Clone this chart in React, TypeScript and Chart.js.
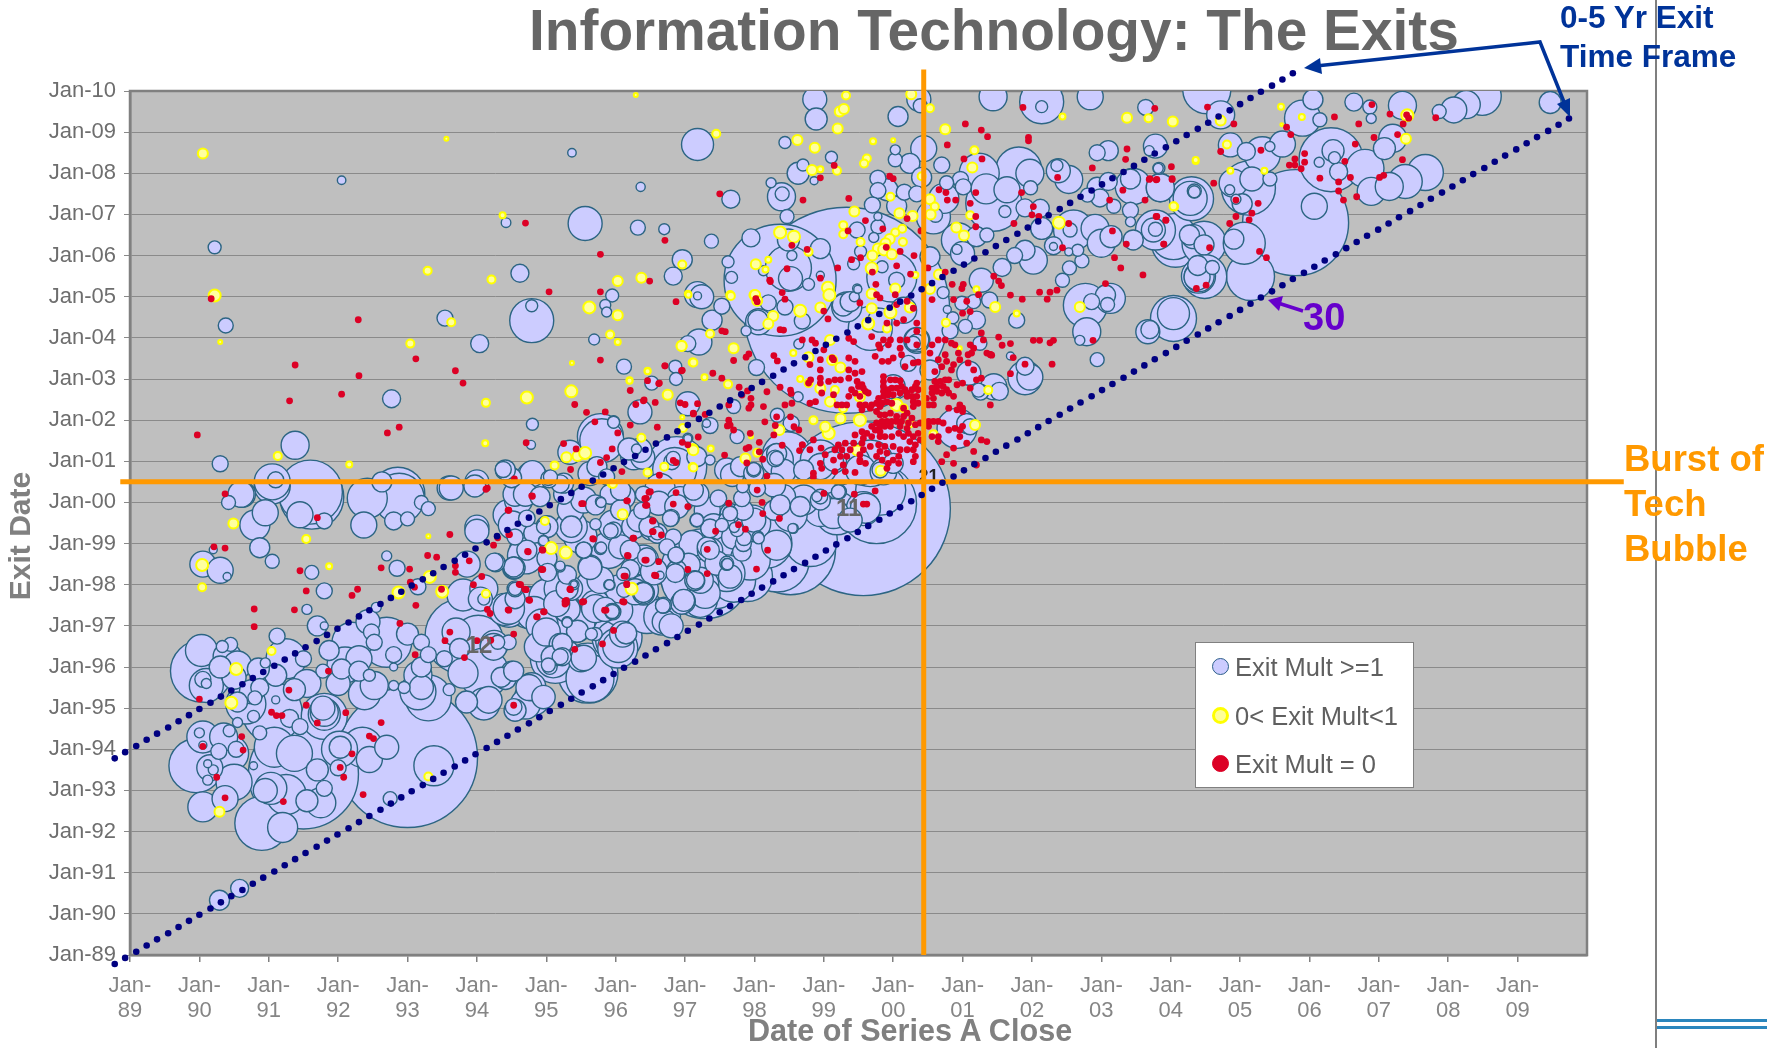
import React, { useEffect, useRef } from "react";
import { Chart, registerables } from "chart.js";

Chart.register(...registerables);

const FONT = '"Liberation Sans", Arial, sans-serif';

// Exit date = close date guide (x, y in years; 100 = Jan-00)
const guideCloseDates = [88.78,88.93,89.09,89.24,89.39,89.55,89.70,89.85,90.00,90.16,90.31,90.46,90.62,90.77,90.92,91.08,91.23,91.38,91.53,91.69,91.84,91.99,92.15,92.30,92.45,92.61,92.76,92.91,93.06,93.22,93.37,93.52,93.68,93.83,93.98,94.14,94.29,94.44,94.59,94.75,94.90,95.05,95.21,95.36,95.51,95.67,95.82,95.97,96.12,96.28,96.43,96.58,96.74,96.89,97.04,97.20,97.35,97.50,97.65,97.81,97.96,98.11,98.27,98.42,98.57,98.73,98.88,99.03,99.18,99.34,99.49,99.64,99.80,99.95,100.10,100.26,100.41,100.56,100.71,100.87,101.02,101.17,101.33,101.48,101.63,101.79,101.94,102.09,102.24,102.40,102.55,102.70,102.86,103.01,103.16,103.32,103.47,103.62,103.77,103.93,104.08,104.23,104.39,104.54,104.69,104.85,105.00,105.15,105.30,105.46,105.61,105.76,105.92,106.07,106.22,106.38,106.53,106.68,106.83,106.99,107.14,107.29,107.45,107.60,107.75,107.91,108.06,108.21,108.36,108.52,108.67,108.82,108.98,109.13,109.28,109.44,109.59,109.74];
const guideExitDates = [88.78,88.93,89.08,89.23,89.38,89.53,89.68,89.83,89.98,90.13,90.28,90.43,90.58,90.73,90.88,91.03,91.18,91.33,91.48,91.63,91.78,91.93,92.08,92.23,92.38,92.53,92.68,92.83,92.98,93.13,93.28,93.43,93.58,93.73,93.88,94.03,94.18,94.33,94.48,94.63,94.78,94.93,95.08,95.23,95.38,95.53,95.68,95.83,95.98,96.13,96.28,96.43,96.58,96.73,96.88,97.03,97.18,97.33,97.48,97.63,97.78,97.93,98.08,98.23,98.38,98.53,98.68,98.83,98.98,99.13,99.28,99.43,99.58,99.73,99.88,100.03,100.18,100.33,100.48,100.63,100.78,100.93,101.08,101.23,101.38,101.53,101.68,101.83,101.98,102.13,102.28,102.43,102.58,102.73,102.88,103.03,103.18,103.33,103.48,103.63,103.78,103.93,104.08,104.23,104.38,104.53,104.68,104.83,104.98,105.13,105.28,105.43,105.58,105.73,105.88,106.03,106.18,106.33,106.48,106.63,106.78,106.93,107.08,107.23,107.38,107.53,107.68,107.83,107.98,108.13,108.28,108.43,108.58,108.73,108.88,109.03,109.18,109.33];
const WINDOW_YEARS = 5;
const UPPER_GUIDE_COUNT = 112;

// [close date, exit date, deal size]
const winnersEarly = [
[90.29,90.33,100],[90.58,90.62,81],
[93,93.8,4900],[91.5,93.4,3025],[90.9,92.2,729],[91.2,92.1,225],[89.95,93.6,729],[90.05,92.6,225],[90.37,92.8,169],[90.05,94.3,256],[90.35,94.3,196],[90.45,93.9,324],[90.5,93.2,324],[90.15,93.55,169],[90.2,93.5,25],[90.12,93.65,16],[90.12,93.25,25],[90.28,93.95,64],[90.53,94,64],[90.43,94.45,36],[90,94.4,25],[90.05,94.1,16],[90.78,93.6,16],[90.87,94.4,49],[90.55,94.65,25],[90.78,94.8,36],[91.37,93.9,324],[91.08,94.05,400],[90.95,93,144],[91.03,93.05,256],[91.25,92.9,400],[91.55,92.75,121],[91.75,92.7,225],[91.8,93.05,64],[91.7,93.5,121],[92,93.55,64],[92.03,94.05,121],[92.35,94.05,400],[92.02,94,324],[92.45,93.75,169],[92.7,94.05,144],[93.38,93.6,400],[92.75,92.8,49],[91.8,94.8,529],[91.8,94.85,256],[91.8,94.9,196],[91.78,95,144],[91.45,94.55,64],[91.3,94.75,81],[91.05,94.9,900],
[90.03,95.9,961],[90.03,96.4,256],[90.1,95.55,289],[90.1,95.6,25],[90.05,95.7,64],[90.33,96.5,36],[90.45,96.55,49],[90.4,96.25,196],[90.3,96,121],[90.5,95.75,144],[90.55,96.05,196],[90.55,95.15,100],[90.67,95.1,400],[90.8,95.25,49],[90.87,95.5,81],[91.1,95.2,16],[91.1,95.8,121],[90.95,96.1,25],[90.85,95.95,121],[90.75,95.4,144],[91.37,95.45,121],[91.5,96.2,64],[91.55,95.6,196],[91.12,96.75,64],[91.25,96.2,400],[91.7,97,100],[91.8,97,16],[91.87,96.4,100],[91.78,95.9,49],[92.05,95.95,100],[92,95.6,144],[92.3,96.2,169],[92.3,95.9,100],[92.2,96.6,400],[92.1,96.05,324],[92.52,95.55,196],[92.45,95.8,36],[92.38,95.35,256],[92.43,97.1,144],[92.48,96.85,64],[92.52,96.6,64],[92.7,96.6,625],[93,96.8,121],[92.8,96.3,64],[92.8,96,16],[92.8,95.55,25],[93.2,96.6,64],[93.3,96.3,64],[93.2,96,100],[93.15,95.8,196],[93.2,95.5,144],[93.15,95.4,324],[93.3,95.25,529],[92.95,95.5,36],[93.53,96.2,64],[93.6,95.45,36],[93.8,95.85,225],[93.85,95.15,121],[94.1,95.1,256],[93.8,96.75,1444],[93.8,97.75,256],[93.7,96.85,196],[94.02,96.65,625],[94.25,96.55,196],[93.75,96.45,100],[94.3,96.6,49],[94.4,97.4,256],[94.1,97.9,196],[94.1,97.65,36],[94.05,97.65,144],[94.75,97.45,441],[94.55,97.9,64],[95,96.5,225],[95,96.85,196],[95.2,96.55,121],[95.2,96.25,64],[95.03,96.05,49],[95.1,96.15,289],[95.5,96.2,169],[95.6,95.85,900],[94.5,95.9,100],[94.35,95.75,100],[94.75,95.5,169],[94.8,95.25,324],[94.55,94.95,121],[94.7,95.1,225],[94.1,95.85,625],[95.65,96.8,36],[95.3,97.1,25],[95.4,97.1,441],[96.1,96.8,169],[96,96.65,400],[95.95,97.35,49],[95.85,97.4,144],[95.3,97.4,169],[95.4,98,25],[95.3,97.9,121],[95.2,97.9,256],[96.4,97.8,121],[95.9,98,25],[95.7,97.9,400],[96.05,97.9,196],[96.03,96.46,400],[96.7,97.1,144],[96.95,97.55,121],[97.45,97.95,484],
[90.8,99.45,225],[90.95,99.75,169],[90.87,98.9,100],[91.05,98.57,49],[90.62,100.2,169],[90.42,100,49],[90.05,98.5,169],[90.3,98.35,169],[90.4,98.2,16],[90.2,98.85,16],[91.62,100.13,1024],[91.45,99.7,169],[91.8,99.55,64],[91.05,100.4,324],[91.62,98.3,49],[91.8,97.85,64],[91.55,97.4,25],[92.55,97.45,25],[92.7,98.7,25],[92.85,98.4,64],[93.15,97.95,64],[92.37,99.45,169],[92.42,100.1,400],[92.8,99.55,81],[93,99.6,49],[92.88,100.1,625],[93.2,100,49],[93.3,99.85,49],[93.6,100.35,144],[93.97,100.4,121],[94,99.4,144],[94,99.3,144],[94.25,98.55,81],[93.86,98.5,169],[94.53,98.4,121],[94.7,98.7,324],[94.6,100.05,196],[94.45,99.7,225],
];

const winnersIsolated = [
[90.22,106.2,42],[90.38,104.3,56],[92.05,107.83,18],[95.37,108.5,18],[96.36,107.67,21],[95.56,106.78,289],[96.32,106.68,56],[96.7,106.64,30],[94.42,106.8,23],[94.62,105.57,81],[94.79,104.42,484],[94.79,104.78,36],[93.54,104.48,64],[94.04,103.86,81],[92.77,102.52,81],[91.38,101.39,196],[90.3,100.94,64],[94.8,101.9,36],[94.78,101.4,20],[95.69,103.96,30],[96.12,103.3,56],[96.52,102.9,49],[96.86,103.3,42],[96.87,103,42],[96.35,102.2,144],[97.04,102.4,144],[95.95,105.03,42],[95.85,104.8,30],[95.87,104.63,25],[96.83,105.5,81],[96.96,105.9,100],[97.18,105.05,169],[97.18,105.02,16],[97.18,108.7,256],[97.04,103.86,64],[97.2,103.9,169],[95.8,101.5,484],[95.97,101.96,36],[95.34,101.22,144],[96.19,101.3,121],[96.39,101.1,144],[96.3,101.3,25],[96.83,101.07,49],[97.04,101.55,16],[96.85,100.8,484],[91.05,100.5,324],[91.1,100.55,64],[91.6,100.25,1024],[90.6,100.2,169],[92.63,100.5,100],[92.86,100.2,729],[93.63,100.35,144],[94,100.5,144],[94.38,100.8,64],[94.5,100.6,100],[94.8,100.7,169],[95.04,100.55,64],[95.2,100.45,81],
];

const winnersBand = [
[94.55,100.2,144],[94.7,100.2,144],[94.91,100.14,100],[95.25,100.2,100],[95.54,100.06,169],[95.78,100.02,25],[95.92,100.2,100],[96.11,100.14,144],[96.4,100.2,64],[96.62,99.98,144],[96.88,99.9,144],[97.17,100.2,144],[97.32,99.81,169],[97.65,99.73,100],[97.41,99.41,169],[97.84,99.81,100],[97.99,99.57,144],[98.28,99.81,100],[98.42,100.14,144],[98.66,99.9,100],[98.95,100.06,100],[99.21,100.26,49],[98.9,100.14,25],[99.14,99.73,225],[99.38,99.57,144],[98.56,99.37,25],
[94.55,99.16,64],[94.82,99.25,100],[94.96,99.41,49],[95.97,99.33,64],[96.26,99.41,144],[96.5,99.33,100],[96.79,99.61,64],[97.17,99.57,49],[96.83,99.16,64],[97.1,99,169],[97.32,98.92,100],[97.7,99.16,144],[98.05,99.16,36],[98.32,98.96,225],[97.84,99,64],[97.6,98.52,49],[97.6,99.57,64],[95.54,98.84,64],[95.78,98.88,36],[94.96,99.08,25],[94.72,98.84,100],[94.53,98.43,100],[95.2,98.43,25],[95.63,98.43,144],[96.07,98.92,144],[96.4,98.6,225],[96.74,98.92,64],[96.87,98.72,64],
[95.35,97.91,144],[95.4,98.01,12],[95.01,97.7,324],[95.71,97.5,225],[95.92,97.99,25],[96.28,97.83,169],[96.4,97.87,225],[96.69,97.5,64],[96.98,97.62,121],[97.22,98.11,169],[97.15,98.11,81],[95.96,97.34,64],[95.15,97.54,169],[94.55,97.66,100],[94.46,97.38,289],[94.82,97.3,289],[95.3,97.1,25],[96.45,97.3,400],[97.22,97.62,289],[97.7,98.11,484],[97.94,98.6,400],[96.88,98.35,100],[97.46,98.52,144],
[95.78,101.6,529],[95.97,101.95,36],[96.35,101.27,144],[96.26,101.11,169],[95.63,100.7,144],[95.73,100.87,100],[95.87,100.62,64],[96.88,100.87,900],[96.81,100.99,64],[97.17,101.11,100],[97.36,101.03,25],[97.6,100.79,144],[97.8,100.87,100],[97.99,100.79,49],[98.32,101.19,100],[98.47,101.11,625],[98.32,101.07,49],[98.71,100.79,100],[99.14,101.03,169],[99.38,100.95,400],[99.81,100.79,64],[100,100.95,100],[99.24,100.79,225],[98.95,100.87,169],[94.41,100.79,100],[94.79,100.62,225],[95.06,100.62,49],
[97.36,101.87,64],[97.31,101.92,16],[97.75,101.6,49],[98.03,103.28,64],[98.33,102.12,49],[98.53,101.92,64],[98.63,102.57,25],[97.7,102.33,49],[97.04,101.56,25],
[99.57,99.85,7569],[99.57,99.85,289],[99.76,99.97,1600],[98.52,98.85,2025],[97.29,98.27,2025],[97.9,98.2,625],[96.8,97,144],
];

const winnersBandDetail = [
[94.51,99.45,196],[94.72,99.61,69],[95.01,99.41,121],[94.96,99.07,25],[94.27,98.54,87],[94.54,98.41,114],[94.77,98.84,427],[95.01,98.64,100],[95.02,98.3,81],[95.2,98.46,22],[95.3,98.24,87],[95.36,99.41,256],[95.36,99.41,114],[95.54,98.84,69],[95.63,98.41,136],[95.79,98.9,32],[95.71,99.47,32],[95.93,99.31,54],[95.49,99.17,278],[95.9,98.84,336],[95.79,100,25],[95.71,99.94,100],[95.35,99.82,178],[96.07,99.82,100],[96.38,99.8,69],[95.97,99.45,225],[96.33,99.57,136],[96.8,99.63,69],[96.6,99.25,100],[96.6,99.25,44],[96.48,99.41,100],[96.21,98.84,100],[96.45,98.67,87],[96.87,98.72,69],[97.05,98.48,136],[96.55,98.32,178],[96.21,98.38,87],[96.11,98.26,44],[95.91,98,25],[95.78,98.11,178],[96.86,98.28,87],[96.64,98.23,16],[97.14,98.1,100],[97.27,98,225],[97.17,99.57,44],[97.36,98.84,160],[97.36,98.84,87],[97.17,98.92,178],[97.65,99.74,54],[97.48,100.1,69],[97.53,99.45,44],[97.36,99.37,87],[97.6,98.5,32],[97.6,98.28,336],[97.75,99.33,44],[96.93,100.06,178],[97.12,100.3,100],[96.64,100.34,225],[96.07,100.3,100],[95.03,100.59,54],[95.25,100.47,100],
[94.46,97.42,245],[94.55,97.9,44],[94.77,97.46,400],[95.29,97.42,178],[95.71,97.42,196],[95.95,97.36,59],[96.03,97.38,225],[96.12,97.87,54],[96.4,97.81,100],[96.68,97.49,54],[96.98,97.59,136],[96.67,97.22,336],[97.29,97.79,225],[95.3,97.08,25],[95.45,96.87,121],[95.71,96.8,44],[96.15,96.82,114],[96.04,96.49,245],[96.02,96.73,625],[94.9,96.49,225],[94.46,96.6,54],[95.23,96.25,81],[95.23,96.57,100],[95.54,96.22,160],[95.05,96,54],[95.08,96.25,114],[95.63,95.72,576],[94.79,95.52,196],[94.53,95.9,100],[94.41,95.72,121],[94.94,97.02,256],[95.13,96.21,625],[94.17,95.2,178],[94.53,95.03,69],[94.96,95.27,136],[94.24,96.49,178],
[99.6,99.86,225],[99.82,100.3,625],[98.95,100.14,54],[99.22,100.26,54],[98.95,99.82,278],[99.19,99.74,469],[98.71,100.06,225],[98.52,99.7,278],[98.37,99.94,100],[98.28,100.42,136],[98.04,100.34,69],[97.83,100.38,36],[97.82,100.1,69],[97.65,99.73,54],[97.71,99.39,25],[97.97,99.49,336],[98.06,99.13,32],[97.85,99.13,54],[98.18,99.01,625],[98.55,99.37,22],[98.81,99.09,711],[97.82,98.8,87],[97.61,98.5,32],[97.65,98.2,136],[98.33,98.6,1024],[97.99,100.71,100],[98.3,101.07,69],[98.42,100.75,152],[98.33,101.03,256],[99.14,101,100],[98.97,100.83,225],[98.95,101.03,400],[97.68,100.67,136],[97.99,100.81,44],[99.86,100.75,178],[99.53,100.79,225],[99.67,100.95,544],
];

const winnersPeak = [
[98.87,109.8,144],[98.89,109.32,121],[100.07,109.38,100],[100.37,109.8,144],[100.39,109.64,49],[100.44,108.6,169],[100.7,108.2,64],[100.03,108.57,25],[100.03,108.33,49],[100.24,108.24,100],[99.78,107.88,64],[99.91,107.6,121],[99.78,107.58,64],[100.16,107.54,64],[100.05,107.2,100],[100.34,107.5,64],[100.41,107.9,100],[98.44,108.75,36],[98.7,108.2,36],[98.63,108,121],[98.86,107.82,16],[99.11,108.39,36],[98.24,107.77,25],[98.39,107.43,196],[98.4,107.5,49],[97.66,107.37,81],[99.7,107.23,64],[99.78,106.95,16],[99.78,106.7,49],[99.48,106.62,64],[99.72,106.44,25],[99.53,106.1,36],[98.47,106.95,49],[97.38,106.35,49],
[98.37,105.4,3136],[99.33,104.67,10609],[97.95,106.43,81],[97.62,105.85,36],[97.67,105.47,36],[98.52,105.44,144],[98.49,105.69,529],[98.54,106,25],[98.95,106.17,100],[98.78,105.3,36],[98.13,105.63,25],[98.95,105.52,16],[98.49,106.38,121],[98.2,104.85,64],[98.44,104.75,64],[98.05,104.43,100],[98.06,104.39,169],[97.53,104.77,64],[97.39,104.43,100],[97.24,105,144],[97.88,104.17,25],[98.69,104.41,64],[98.64,103.85,25],[99.28,104.8,121],[99.33,104.75,225],[99.44,105,25],[99.49,105.18,16],[99.43,105.8,36],[99.84,105.73,36],[99.98,105.48,625],[99.81,104.43,144],[99.67,104.23,484],[100.15,104.67,169],[100.34,103.94,169],[100.34,103.9,64],[100.05,105.4,64],[100.58,106.94,289],[100.61,106.98,49],[100.53,105.97,100],[100.72,105.1,36],[100.78,104.69,16],[100.86,104.49,36],[100.82,104.17,64],[101.04,104.28,49],[101.2,104.43,81],[100.99,104.84,49],[101.16,104.88,49],[101.27,105.4,144],[101.39,104.92,64],[101.78,104.43,64],[101.57,105.71,81],[102.44,105.4,49],[102.54,105.7,49],[102.72,105.87,49],[101.9,106.13,100],[102.02,105.89,196],[101.75,106,64],
[100.34,103.95,144],[100.29,103.87,49],[99.38,104.88,100],[99.48,105.2,20],[101.25,103.87,49],[101.09,103.14,144],[101.23,102.73,49],[101.45,102.81,169],[101.06,101.92,100],[100.92,101.8,400],[101.11,101.84,64],[100.22,103.38,64],[100.53,103.22,100],[100,102.81,144],[101.9,103.03,289],[101.53,102.7,81],[101.26,102.68,64],
];

const winnersLate = [
[102.14,106.66,121],[102.31,106.24,81],[102.31,106.22,16],[102.53,106.09,16],[102.66,106.13,36],[102.6,106.62,400],[102.55,106.62,49],[102.91,106.66,196],[103,106.3,196],[103.14,106.46,121],[103.46,106.38,100],[103.42,106.82,25],[103.42,107.1,64],[103.18,107.2,49],[102.98,107.4,81],[103.1,107.8,81],[102.94,107.66,100],[102.8,107.47,49],[103.46,107.68,324],[103.42,107.86,100],[103.85,107.65,196],[103.83,108.12,36],[103.78,108.66,144],[103.69,108.55,25],[103.64,109.6,64],[102.94,108.5,64],[103.1,108.55,100],[102.53,107.85,196],[102.36,108.19,36],[102.38,108.06,144],[102.84,109.86,169],[102.14,109.74,484],[102.14,109.62,36],[101.44,109.86,196],[101.81,108.08,529],[101.97,108,196],[101.24,108,400],[101.34,107.62,225],[101.45,107.27,784],[101.64,107.6,169],[101.98,107.65,49],[100.77,107.77,49],[100.97,107.85,64],[101.01,107.67,64],[100.73,107.39,225],[101.61,107.07,36],[101.9,107.16,81],[102.12,107.15,81],[101.35,106.5,49],[101.2,106.46,100],[100.94,106.38,289],[100.92,106.15,25],[101,106.05,144],[103.75,106.62,144],[103.78,106.64,49],[104.04,106.46,529],[104.28,107.39,289],[104.34,107.55,36],[104.33,106.46,144],[104.38,105.48,169],[104.4,105.5,289],[102.77,104.79,484],[103.06,105.04,100],[102.86,104.88,64],[103.13,104.96,225],[103.09,104.81,49],[102.79,104.15,196],[102.69,103.94,25],[104.04,104.47,529],[104.04,104.59,256],[103.67,104.15,144],[102.94,103.47,49],[101.9,103.31,81],[101.97,103.05,169],[101.69,103.56,16],
[104.52,110.03,576],[104.72,109.42,196],[104.86,108.69,144],[106.05,109.79,100],[105.9,109.34,324],[106.15,109.3,49],[106.64,109.73,81],[106.87,109.61,49],[106.89,109.33,25],[107.34,109.65,196],[107.2,108.85,196],[107.08,108.6,121],[107.87,109.5,49],[108.08,109.54,169],[108.26,109.67,196],[108.49,109.87,361],[109.47,109.72,121],[105.61,108.71,169],[105.32,108.45,324],[105.43,108.65,25],[105.09,108.53,81],[106.31,108.33,1024],[106.34,108.55,121],[106.36,108.38,36],[106.42,108.04,81],[106.14,108.27,25],[106.8,108.12,361],[106.89,107.56,196],[107.15,107.68,196],[107.38,107.8,289],[107.67,108.02,324],[105.12,107.64,729],[105.17,107.86,144],[105.43,107.86,49],[104.9,107.76,196],[104.85,107.6,25],[104.94,107.37,25],[105.03,107.26,100],[105.8,106.8,2809],[106.07,107.2,169],[104.3,107.38,484],[104.34,107.57,49],[103.82,108.12,25],[103.85,107.65,196],[105.06,106.3,441],[104.91,106.4,100],[105.15,105.49,576],[104.48,106.3,484],[104.27,106.5,100],[104.48,106.26,100],[104.07,106.3,576],[103.78,106.62,400],[104.49,105.49,484],[104.41,105.49,225],[104.39,105.76,100],[104.6,105.71,49],[103.7,104.2,81],
];

// Failed exits around the 2000 peak, [close date, exit date]
const lossCluster = [
[99.06,104.46],[99.52,104.85],[99.81,104.97],[99.91,104.36],[100.05,104.36],[100.34,104.36],[100.34,104.16],[99.69,104.03],[99.36,103.99],[99.43,103.91],[98.69,103.95],[98.83,103.95],[98.88,103.87],[99,103.71],[98.95,103.47],[98.8,103.35],[98.95,103.22],[98.95,103.02],[98.95,102.9],[99.07,102.94],[99.16,102.98],[99.24,102.98],[98.81,102.98],[98.78,102.9],
[99.86,103.95],[99.96,103.95],[99.79,103.83],[99.81,103.75],[99.93,103.83],[100.1,103.95],[100.2,103.95],[100.34,103.83],[100.1,103.75],[100.12,103.59],[100,103.51],[99.93,103.43],[99.84,103.43],[99.74,103.55],[99.36,103.51],[99.45,103.43],[99.14,103.47],[99.12,103.51],[99.36,103.22],[99.45,103.14],[99.36,103.02],[99.48,102.94],[99.55,103.18],[100.17,103.3],[100.29,103.39],[100.36,103.41],
[100.75,103.95],[100.65,103.95],[100.56,103.83],[100.53,103.63],[100.65,103.47],[100.77,103.43],[100.75,103.59],[100.7,103.3],[100.6,103.18],[100.84,103.22],[100.87,103.35],[100.94,103.63],[100.84,103.87],[100.89,103.83],[101.11,103.83],[101.16,103.75],[101.13,103.63],[101.08,103.59],[100.96,103.47],[101.08,103.39],[101.35,103.63],[101.4,103.59],[101.27,104.12],[101.3,103.95],[101,104.6],[101.11,104.64],[101.23,105.05],[101.06,104.89],[100.87,104.93],[100.56,104.93],[100.29,104.72],[100.2,104.89],[100.03,105.05],[100.05,104.81],[99.76,105.05],[100.15,104.44],
[99.86,103.06],[99.86,102.94],[99.86,102.82],[99.86,102.7],[99.86,102.58],[99.96,102.98],[100.03,102.98],[100.1,102.96],[99.98,102.78],[100.05,102.78],[100.12,102.82],[99.93,102.74],[99.93,102.62],[100,102.62],[100.1,102.66],[100.17,102.74],[100.2,102.66],[100.27,102.74],[100.32,102.82],[100.34,102.9],[100.36,102.74],[100.27,102.58],[100.2,102.58],[100.29,102.45],[100.34,102.58],[100.36,102.41],[100.29,102.33],[99.79,102.53],[99.76,102.41],[99.84,102.41],[99.91,102.45],[99.98,102.41],[99.52,102.37],[99.6,102.37],[99.69,102.37],[99.81,102.33],[99.55,102.25],[99.67,102.29],[99.4,102.74],[99.5,102.82],[99.55,102.86],[99.57,102.78],[99.6,102.7],[99.64,102.66],[99.36,102.58],[99.45,102.66],[99.52,102.58],[98.97,102.66],[98.88,102.45],[98.8,102.41],[99.14,102.62],[99.33,102.37],[99.19,102.37],[99.26,102.37],
[100.6,102.94],[100.68,102.94],[100.75,102.98],[100.63,102.82],[100.56,102.78],[100.72,102.82],[100.77,102.74],[100.56,102.66],[100.63,102.7],[100.7,102.66],[100.8,102.66],[100.58,102.53],[100.48,102.53],[100.87,102.58],[100.58,102.37],[100.51,102.37],[100.96,102.37],[101,102.29],[100.92,102.25],[101,102.21],[100.8,102.29],[101.11,102.78],[101,102.9],[101.2,102.98],[101.27,103.02],[100.92,102.86],[100.8,102.98],[101.16,103.22],[101.4,102.37],
[99.76,102.21],[99.81,102.13],[99.88,102.13],[99.96,102.17],[100.05,102.09],[100.15,102.29],[100.2,102.17],[100.27,102.05],[100.15,102.09],[100.22,101.93],[100.12,101.97],[100.05,101.97],[99.98,101.97],[99.91,101.97],[99.84,101.97],[99.76,101.93],[99.69,101.85],[99.81,101.85],[99.88,101.85],[99.96,101.85],[99.74,101.76],[99.81,101.72],[100.1,101.85],[100.2,101.8],[100.32,101.89],[100.39,101.93],[100.22,101.68],[100.29,101.6],[100.36,101.68],[100.39,101.52],[100.32,101.4],[100.24,101.48],[100.15,101.6],[100.08,101.68],[99.98,101.6],[99.88,101.6],[99.81,101.6],[99.69,101.6],[99.62,101.68],[99.55,101.72],[99.45,101.64],[99.57,101.56],[99.55,101.44],[99.43,101.44],[99.31,101.44],[99.21,101.4],[99.16,101.28],[99.26,101.28],[99.38,101.28],[99.33,101.12],[99.24,101.12],[99.57,101.28],[99.52,101.16],[99.67,101.36],[99.79,101.4],[99.81,101.24],[99.88,101.36],[99.91,101.2],[100,101.36],[100.1,101.28],[100.2,101.28],[100.08,101.12],[100.29,101.28],[100.32,101.12],[100.29,100.99],[100,101.03],[100.08,100.95],[99.76,101.12],[99.84,101.03],[99.93,100.95],[99.91,100.83],[99.52,101.03],[99.6,100.95],[99.52,100.99],[99.28,100.91],[99.31,100.75],[99.45,100.73],[99.14,101.03],[99.02,101.16],[98.95,100.95],[98.97,100.83],[98.85,100.71],[99.16,100.75],[98.69,101.4],[98.8,101.28],[98.96,101.32],
[100.51,101.97],[100.58,101.97],[100.65,101.97],[100.72,101.93],[100.8,101.76],[100.65,101.6],[100.65,101.48],[100.56,101.6],[100.89,101.8],[100.96,101.76],[101,101.85],[100.96,101.6],[101.27,101.52],[101.35,101.48],[101.06,101.44],[101.16,101.24],[100.87,101.32],[100.77,101.16],[100.87,100.95],[100.7,100.99],[101.2,100.91],[100.51,101.85],
];

const lossScattered = [
[90.17,104.95],[92.29,104.44],[91.38,103.34],[92.3,103.08],[92.05,102.63],[91.3,102.47],[89.97,101.64],[92.88,101.83],[92.71,101.69],[93.12,103.49],[93.69,103.2],[93.8,102.9],[94.7,106.79],[95.04,105.12],[95.78,106.03],[95.78,105.12],[95.78,103.46],[96.71,106.37],[96.49,105.38],[96.87,104.88],[94.71,101.45],[95.41,102.38],[95.58,102.19],[95.85,102.2],[95.7,101.96],[96.21,101.88],[96.03,101.69],[96.21,102.72],[96.29,102.38],[96.41,102.49],[96.57,102.43],[96.46,102.96],[96.63,102.9],[96.71,103.32],[96.96,103.21],[96.93,102.42],[97,102.38],[97.18,102.4],[97.12,102.17],[96.6,101.83],[96.96,101.46],[97.04,101.4],[97.19,101.59],[95.25,101.43],[95.43,101.3],[95.95,101.3],[95.87,101.09],[95.78,100.97],[95.35,100.8],[96.09,100.75],[96.63,100.66],[96.83,101.02],[96.87,100.97],[94.15,100.35],[94.54,100.57],
[90.37,100.21],[91.7,99.63],[90.21,98.92],[90.37,98.89],[91.45,98.34],[91.54,97.85],[92.2,97.74],[92.28,97.89],[91.37,97.39],[90.79,97.41],[90.79,96.98],[92.62,98.41],[93.03,98.38],[93.04,98.06],[93.1,97.94],[93.12,97.5],[92.89,97.06],[93.11,96.3],[93.29,98.71],[93.42,98.67],[93.49,97.89],[93.61,99.22],[93.69,98.46],[93.69,98.3],[93.89,98.58],[93.61,96.85],[93.54,96.64],[93.82,96.23],[94,96.64],[94.2,96.65],[94.15,97.4],[94.19,97.3],[93.95,98],[94.07,98.2],[94.24,98.96],[94.3,99.14],[94.46,99.22],[94.45,99.81],[94.13,100.32],[94.79,100.16],[94.73,98.81],[94.94,98.85],[94.93,98.37],[94.61,98.01],[94.69,97.89],[94.75,97.63],[94.45,97.39],[94.86,97.22],[94.96,97.34],[94.53,96.8],[95.41,96.43],[95.81,96.56],[95.97,96.89],[95.84,97.38],[95.27,97.6],[95.27,97.53],[95.34,97.89],[95.52,97.58],[96.1,97.59],[96.16,98.02],[96.12,98.21],[96.17,98.71],[96.42,98.6],[96.56,98.23],[95.67,99.12],[96.25,99.13],[96.53,99.55],[96.53,99.29],[96.16,100.04],[95.51,99.97],[96.42,100.09],[96.43,99.93],[96.48,100.25],
[90,95.22],[91.54,95.07],[91.86,95.9],[91.29,95.44],[91.04,94.9],[91.11,94.82],[91.19,94.82],[91.7,94.64],[92.11,94.89],[92.62,94.65],[92.45,94.32],[92.51,94.26],[92.2,93.89],[92.03,93.56],[92.08,93.32],[92.36,92.9],[91.21,92.73],[90.37,92.82],[90.25,93.32],[90.05,94.07],[90.61,94.31],[90.63,93.98],[94.53,95.07],
[97.58,104.15],[98.42,104.19],[98.44,104.94],[98.04,104.88],[98.23,105.37],[97.7,103.45],[97.92,103.61],[97.88,103.53],[98.28,103.57],[98.33,103.44],[97.53,103.02],[97.4,103.14],[96.95,103.2],[96.71,103.32],[96.62,102.89],[96.4,102.47],[97.29,102.14],[97.12,102.15],[97.78,102.8],[97.9,102.71],[97.82,102.61],[98.18,102.69],[98.37,102.8],[97.95,102.53],[97.95,102.37],[97.92,102.29],[98.13,102.33],[97.63,102.37],[98.53,102.65],[98.44,102.37],[98.54,102.41],[98.52,102.73],[98.32,102.08],[98.52,102.08],[97.63,102],[97.65,101.88],[97.61,101.86],[97.7,101.76],[98.15,101.96],[98.3,101.87],[98.64,101.76],[98.57,101.84],[98.07,101.46],[97.88,101.31],[97.92,101.34],[98.07,101.23],[97.57,101.15],[97.89,100.96],[98.12,101.05],[98.18,100.64],[98.69,101.4],[98.65,101.26],[98.85,101.52],[98.4,101.39],[98.28,101.64],[97.94,101.68],
[94.8,100.15],[94.46,99.81],[94.47,99.22],[95.53,99.97],[96.17,100.04],[96.44,100.1],[96.45,99.93],[96.5,100.26],[96.87,100.24],[96.83,99.96],[97.04,99.9],[96.54,99.55],[96.54,99.29],[96.66,99.21],[96.26,99.13],[95.68,99.11],[96.18,98.7],[96.44,98.6],[96.62,98.56],[96.58,98.22],[96.14,98.21],[96.16,98],[96.12,97.58],[95.86,97.38],[95.54,97.59],[95.29,97.62],[95.29,97.56],[95.35,97.88],[94.95,98.84],[94.95,98.37],[94.74,98.8],[94.63,98],[94.71,97.88],[94.76,97.62],[94.97,97.34],[94.87,97.22],[94.46,97.38],[97.04,98.37],[97.32,98.27],[97.32,98.86],[97.44,99.3],[97.77,99.46],[97.87,99.35],[97.63,99.98],[98.04,100.3],[98.11,100],[98.12,99.73],[98.36,99.61],[98.19,98.84],[98.03,98.38],[99,100.22],[99.44,100.2],[99.74,100.28],[99.57,99.96],[99.62,99.96],[98.85,100.62],
[101.87,109.6],[101.04,109.2],[101.27,109.05],[101.36,108.89],[101.95,108.87],[101.95,108.79],[100.78,108.69],[101.02,108.35],[101.28,108.35],[99.15,108.19],[98.95,107.89],[99.95,107.93],[100,107.87],[98.7,107.35],[99.36,107.39],[100.66,107.6],[100.76,107.53],[100.78,107.35],[100.9,107.35],[101.19,107.53],[101.11,107.27],[101.85,107.53],[102.02,107.19],[102,106.99],[102.1,106.95],[101.74,106.78],[101.19,106.95],[101.19,106.7],[102.53,106.78],[102.37,107.9],[102.44,106.19],[103.16,106.6],[103.35,108.34],[103.37,108.59],[102.87,108.13],[103.12,107.35],[103.31,107.59],[103.69,107.85],[103.8,107.85],[104.02,107.85],[103.63,107.35],[103.8,106.95],[103.93,106.86],[103.9,106.28],[103.36,106.28],[103.19,105.95],[103.28,105.7],[103.6,105.53],[103.06,105.32],[102.11,105.11],[102.26,105.11],[102.36,105.16],[102.22,104.94],[101.69,105.04],[101.86,104.94],[101.45,105.5],[101.52,105.38],[101.56,105.27],[101.01,105.3],[100.99,105.2],[102.88,103.94],[102.02,103.94],[102.11,103.94],[102.26,103.88],[102.31,103.94],[102.29,103.36],[101.9,103.36],[101.69,103.86],[101.57,103.82],[101.52,104.02],[101.4,103.6],[101.42,103.58],[101.73,103.52],[101.69,103.13],
[97.5,107.5],[99.4,105.9],[99.7,105.6],[99.53,105.95],[99.75,105.3],[99.9,106.2],[100.1,106.1],[100.3,106],[100.05,105.75],[100.25,105.55],[100.5,105.7],[100.75,105.6],[100.85,105.3],[100.4,106.6],[100.2,106.9],[99.85,106.65],[99.6,106.85],[99.35,106.6],[99.2,105.7],[98.95,105.45],[98.4,105.1],[98.02,104.95],[98.76,106.15],[98.54,106.25],[98.47,105.68],[98.22,105.4],[97.53,104.17],[98.37,104.2],[99,104.65],
[104.53,109.61],[103.77,109.58],[104.91,109.2],[105.67,109.12],[105.73,108.94],[106.36,109.37],[106.71,109.2],[106.9,109.67],[107.16,109.44],[107.4,109.42],[107.43,109.34],[107.35,109.2],[107.27,108.94],[106.93,108.87],[106.66,108.71],[107.82,109.35],[104.72,108.53],[105.3,108.56],[105.93,108.48],[105.79,108.35],[105.93,108.27],[105.71,108.2],[105.79,108.2],[105.88,108.11],[106.51,108.29],[107.34,108.33],[106.15,107.88],[106.59,107.9],[106.42,107.79],[106.42,107.57],[106.49,107.35],[106.68,107.43],[107.01,107.9],[107.07,107.95],[104.62,107.76],[104.01,108.16],[104.02,107.87],[103.79,107.84],[103.7,107.87],[105.26,107.27],[105.17,107.03],[104.94,107.35],[104.94,106.95],[105.13,106.87],[104.85,106.78],[103.79,106.95],[103.93,106.86],[103.9,106.28],[104.56,106.19],[105.28,106.1],[105.38,105.95],[104.51,105.28],[104.37,105.2],
];

// Partial exits, [close date, exit date, deal size]
const partialExits = [
[90.05,108.48,25],[93.56,108.84,4],[96.29,109.9,4],[94.37,106.98,9],[93.29,105.63,16],[94.21,105.42,16],[90.22,105.03,36],[93.63,104.38,16],[93.04,103.86,16],[90.3,103.9,4],[95.62,104.74,36],[96.03,105.38,25],[96.37,105.46,25],[96.96,105.78,16],[97.04,105.07,9],[96.03,104.55,25],[95.92,104.08,16],[96.03,103.9,9],[96.95,103.81,25],[97.11,103.4,16],[95.37,103.39,4],[96.46,103.2,9],[96.2,102.97,9],[95.36,102.7,36],[94.72,102.55,36],[94.13,102.42,16],[96.75,102.62,25],[96.96,102.07,4],[96.97,101.81,16],[94.12,101.44,9],[96.37,101.57,16],[97.11,101.3,25],[95.45,101.13,25],[95.29,101.1,25],[95.56,101.2,36],[91.13,101.13,16],[92.16,100.92,9],[95.12,100.9,16],[96.7,100.87,16],[97.11,100.86,16],[96.46,100.73,16],
[90.49,99.49,25],[91.54,99.11,16],[90.04,98.48,36],[90.04,97.94,16],[91.87,98.45,9],[93.3,99.18,4],[90.53,95.95,36],[90.46,95.13,36],[91.04,96.39,16],[90.29,92.48,25],[93.3,93.34,16],[94.13,97.78,16],[93.32,98.19,36],[92.87,97.81,36],[93.5,97.83,36],[95.07,98.89,36],[95.28,98.78,36],[94.98,99.55,16],[96.1,99.71,25],[96.23,97.9,36],[95.94,100.46,16],
[97.12,101.27,25],[97.37,101.31,9],[95.96,100.45,16],[97.12,100.85,16],[98.04,101.21,16],[97.87,101.07,25],[97.95,101.6,4],[98.36,101.76,25],[98.85,102,16],[99.07,101.68,36],[99.02,101.84,25],[99.24,102.04,25],[99.52,102,36],[99.28,102.29,16],[99.48,101.26,25],[99.82,100.77,25],[100.05,102.37,36],[100.15,102.29,16],[100.58,101.66,16],[100.24,101.92,16],[101.18,101.88,25],[101.37,102.73,16],[100.96,103.75,4],[99.16,102.73,16],[99.52,102.57,25],[99.09,102.45,25],[98.78,102.9,16],[98.95,102.77,25],[98.66,103,9],[99.24,103.28,25],[99.12,103.46,25],[98.78,103.53,25],[98.56,103.63,9],[99.09,103.95,25],[99.64,104.35,36],[99.96,104.62,36],[99.69,104.72,25],[99.91,104.23,16],[100.24,104.74,25],[100.76,104.37,16],[100.51,105.2,16],[100.03,105.2,25],[98.95,104.74,25],[98.66,104.66,36],[98.27,104.53,25],[98.2,104.34,25],[97.65,105.04,16],[98,105.04,25],[99.07,105.23,25],[99.09,105.04,25],[99.69,105.07,25],[97.05,105.05,9],[97.28,103.04,9],[97.62,102.87,16],[97.12,103.4,16],[97.7,103.75,25],[96.95,103.8,25],[97.36,104.1,16],[96.46,103.19,9],[96.2,102.96,9],
[99.32,109.89,16],[97.45,108.96,16],[100.26,109.92,25],[100.53,109.58,16],[99.23,109.5,25],[99.29,109.56,25],[99.2,109.09,25],[100.75,109.07,25],[98.62,108.81,25],[98.87,108.62,25],[99.71,108.78,9],[100,108.8,4],[99.62,108.36,16],[99.58,108.24,16],[98.83,108.08,25],[98.95,108.1,9],[99.19,108.06,16],[101.14,108.14,25],[101.17,108.56,16],[100.41,107.93,16],[99.96,107.43,16],[100.53,107.37,25],[100.6,107.19,16],[101.11,106.98,16],[100.54,107,25],[100.09,107.03,25],[100.28,106.96,25],[99.44,107.07,25],[99.28,106.74,16],[99.28,106.52,16],[100.13,106.65,16],[100.03,106.56,16],[99.53,106.33,16],[99.95,106.4,25],[99.89,106.3,25],[99.78,106.17,25],[99.87,106.15,36],[99.7,106,25],[99.98,106.03,25],[100.14,106.33,16],[99.69,105.69,36],[100.91,106.68,25],[101.02,106.49,25],[98.37,106.56,36],[98.57,106.46,36],[98.78,106.09,16],[98.02,105.79,25],[98.2,105.9,9],[98.16,105.66,9],[97.66,105.02,16],[99.06,105.22,36],[99.08,105.04,36],[98.01,105.04,25],[98.04,104.9,25],[100.66,105.54,25],[100.53,105.19,25],[100.32,105.53,9],[101.47,104.75,25],[101.2,105.18,9],[101.78,104.59,9],[102.39,106.8,36],[103.37,109.35,25],[103.68,109.34,16],[104.03,109.26,25],[102.44,109.38,9],[104.36,108.3,9],[104.05,107.19,16],[102.69,104.75,25],
[104.72,109.28,25],[107.41,109.41,36],[107.39,108.84,25],[105.59,109.62,9],[105.89,109.37,9],[105.6,109.18,2],[104.81,108.7,16],[104.36,108.32,9],[104.86,108.06,9],[105.35,108.06,9],[104.04,107.2,16],
];

const bubbleLabels: [number, number, string, string, number][] = [
  [94.03, 96.51, "12", "#666666", 24],
  [99.36, 99.83, "11", "#666666", 24],
  [100.51, 100.62, "21", "#222222", 18],
];

const xTickYears = [89, 90, 91, 92, 93, 94, 95, 96, 97, 98, 99, 100, 101, 102, 103, 104, 105, 106, 107, 108, 109];
const burstCloseLine = [{ x: 100.44, y: 89 }, { x: 100.44, y: 110.52 }];
const burstExitLine = [{ x: 88.86, y: 100.5 }, { x: 110.53, y: 100.5 }];
const legendRows = [
  { label: "Exit Mult >=1", fill: "#CCCCFF", line: "#2c5f8a", border: 1.5 },
  { label: "0< Exit Mult<1", fill: "#FFFF99", line: "#FFFF00", border: 3 },
  { label: "Exit Mult = 0", fill: "#DC0025", line: "#DC0025", border: 1 },
];

const yy = (v: number) => String(Math.round(v) % 100).padStart(2, "0");

function toBubble(rows: number[][]) {
  return rows.map(([x, y, size]) => ({ x, y, r: Math.sqrt(size) }));
}

const App = () => {
  const ref = useRef<HTMLCanvasElement>(null);
  useEffect(() => {
    const winners = toBubble([...winnersEarly, ...winnersIsolated, ...winnersBand, ...winnersBandDetail, ...winnersPeak, ...winnersLate]).sort((a, b) => b.r - a.r);
    const losses = [...lossCluster, ...lossScattered].map(([x, y]) => ({ x, y, r: 3.4 }));
    const partials = toBubble(partialExits);
    const lower = guideCloseDates.map((x, i) => ({ x, y: guideExitDates[i] }));
    const upper = lower.slice(0, UPPER_GUIDE_COUNT).map((p) => ({ x: p.x, y: p.y + WINDOW_YEARS }));
    const dotStyle = { type: "line", showLine: false, pointRadius: 3.3, pointBackgroundColor: "#000080", pointBorderWidth: 0, clip: false };
    const orangeStyle = { type: "line", borderColor: "#FF9900", borderWidth: 5, pointRadius: 0, clip: false, borderCapStyle: "butt" };

    const plotFrame = {
      id: "plotFrame",
      beforeDraw(chart: any) {
        const { ctx, chartArea: a } = chart;
        ctx.save();
        ctx.fillStyle = "#BFBFBF";
        ctx.fillRect(a.left, a.top, a.right - a.left, a.bottom - a.top);
        ctx.restore();
      },
      beforeDatasetsDraw(chart: any) {
        const { ctx, chartArea: a } = chart;
        ctx.save();
        ctx.strokeStyle = "#808080";
        ctx.lineWidth = 2.5;
        ctx.strokeRect(a.left, a.top, a.right - a.left, a.bottom - a.top);
        ctx.restore();
      },
      beforeDatasetDraw(chart: any, args: any) {
        if (args.index !== 3) return;
        const { ctx, scales } = chart;
        ctx.save();
        ctx.textAlign = "center";
        ctx.textBaseline = "middle";
        for (const [x, y, text, color, size] of bubbleLabels) {
          ctx.fillStyle = color;
          ctx.font = `bold ${size}px ${FONT}`;
          ctx.fillText(text, scales.x.getPixelForValue(x), scales.y.getPixelForValue(y));
        }
        ctx.restore();
      },
      // Point elements skip themselves outside the plot area; the guide dots run past it.
      afterDatasetDraw(chart: any, args: any) {
        if (args.index > 1) return;
        const { ctx, chartArea: a } = chart;
        ctx.save();
        ctx.fillStyle = "#000080";
        for (const p of args.meta.data) {
          if (p.x < a.left || p.x > a.right || p.y < a.top || p.y > a.bottom) {
            ctx.beginPath();
            ctx.arc(p.x, p.y, 3.3, 0, Math.PI * 2);
            ctx.fill();
          }
        }
        ctx.restore();
      },
    };

    const zeroPadding = (s: any) => {
      s.paddingTop = 0;
      s.paddingBottom = 0;
      s.paddingLeft = 0;
      s.paddingRight = 0;
    };

    const chart = new Chart(ref.current!, {
      type: "bubble",
      plugins: [plotFrame],
      data: {
        datasets: [
          { ...dotStyle, label: "0-5 Yr upper", data: upper },
          { ...dotStyle, label: "0-5 Yr lower", data: lower },
          { ...orangeStyle, label: "Burst close", data: burstCloseLine },
          { ...orangeStyle, label: "Burst exit", data: burstExitLine },
          { label: "Exit Mult = 0", data: losses, backgroundColor: "#DC0025", borderColor: "#DC0025", borderWidth: 0, clip: 0 },
          { label: "0< Exit Mult<1", data: partials, backgroundColor: "#FFFFA0", borderColor: "#FFFF00", borderWidth: 2, clip: 0 },
          { label: "Exit Mult >=1", data: winners, backgroundColor: "#CCCCFF", borderColor: "#2c6583", borderWidth: 1.4, clip: 0 },
        ] as any,
      },
      options: {
        responsive: false,
        animation: false,
        layout: { autoPadding: false, padding: { left: 0, top: 91, right: 180, bottom: 0 } },
        plugins: { legend: { display: false }, title: { display: false }, tooltip: { enabled: false } },
        scales: {
          x: {
            type: "linear",
            min: 89,
            max: 110,
            afterFit: (s: any) => { s.height = 93; zeroPadding(s); },
            afterBuildTicks: (s: any) => { s.ticks = xTickYears.map((value) => ({ value })); },
            grid: { drawOnChartArea: false, drawTicks: true, tickLength: 7, color: "#808080", lineWidth: 1.5 },
            border: { color: "#808080", width: 2.5 },
            ticks: {
              autoSkip: false,
              maxRotation: 0,
              padding: 11,
              color: "#858585",
              font: { family: FONT, size: 22, lineHeight: 1.15 },
              callback: (v: any) => ["Jan-", yy(v)],
            },
          },
          y: {
            type: "linear",
            min: 89,
            max: 110,
            afterFit: (s: any) => { s.width = 130; zeroPadding(s); },
            grid: { color: "#8a8a8a", lineWidth: 1, tickLength: 6 },
            border: { color: "#808080", width: 2.5 },
            ticks: {
              stepSize: 1,
              autoSkip: false,
              padding: 8,
              color: "#6e6e6e",
              font: { family: FONT, size: 22 },
              callback: (v: any) => `Jan-${yy(v)}`,
            },
          },
        },
      } as any,
    });
    return () => chart.destroy();
  }, []);

  const text = (s: string, left: number, top: number, style: any) => (
    <div style={{ position: "absolute", left, top, whiteSpace: "nowrap", fontFamily: FONT, lineHeight: 1, ...style }}>{s}</div>
  );

  return (
    <div style={{ position: "absolute", left: 0, top: 0, width: 1767, height: 1048, overflow: "hidden", background: "#fff" }}>
      <canvas ref={ref} width={1767} height={1048} style={{ position: "absolute", left: 0, top: 0, width: 1767, height: 1048 }} />
      <div style={{ position: "absolute", left: 1655, top: 0, width: 2, height: 1048, background: "#7f7f7f" }} />
      <div style={{ position: "absolute", left: 1657, top: 1019, width: 110, height: 3, background: "#2b86bd" }} />
      <div style={{ position: "absolute", left: 1657, top: 1026, width: 110, height: 3, background: "#2b86bd" }} />
      <svg width={1767} height={1048} style={{ position: "absolute", left: 0, top: 0 }}>
        <polyline points="1316,66 1540,42 1564,102" fill="none" stroke="#003399" strokeWidth={3.5} />
        <polygon points="1304,68 1320,58 1322,74" fill="#003399" />
        <polygon points="1570,117 1557,104 1570,98" fill="#003399" />
        <line x1={1303} y1={311} x2={1278} y2={303} stroke="#6600CC" strokeWidth={3.5} />
        <polygon points="1268,300 1283,296 1279,311" fill="#6600CC" />
      </svg>
      {text("Information Technology: The Exits", 529, 3, { fontSize: 56.8, fontWeight: "bold", color: "#666666" })}
      {text("0-5 Yr Exit", 1560, 2, { fontSize: 31.5, fontWeight: "bold", color: "#003399" })}
      {text("Time Frame", 1560, 41, { fontSize: 31.5, fontWeight: "bold", color: "#003399" })}
      {text("Burst of", 1624, 441, { fontSize: 36.5, fontWeight: "bold", color: "#FF9900" })}
      {text("Tech", 1624, 486, { fontSize: 36.5, fontWeight: "bold", color: "#FF9900" })}
      {text("Bubble", 1624, 531, { fontSize: 36.5, fontWeight: "bold", color: "#FF9900" })}
      {text("30", 1303, 298, { fontSize: 38, fontWeight: "bold", color: "#6600CC" })}
      {text("Date of Series A Close", 748, 1015, { fontSize: 30.6, fontWeight: "bold", color: "#808080" })}
      <div style={{ position: "absolute", left: 20, top: 536, transform: "translate(-50%,-50%) rotate(-90deg)", whiteSpace: "nowrap", fontFamily: FONT, fontSize: 30, fontWeight: "bold", color: "#808080", lineHeight: 1 }}>Exit Date</div>
      <div style={{ position: "absolute", left: 1195, top: 642, width: 219, height: 146, background: "#fff", border: "1px solid #808080", boxSizing: "border-box" }}>
        {legendRows.map((row, i) => (
          <div key={row.label} style={{ position: "absolute", left: 0, top: 12 + i * 48.5, height: 24, width: "100%" }}>
            <div style={{ position: "absolute", left: 16, top: 3, width: 17, height: 17, borderRadius: "50%", background: row.fill, border: `${row.border}px solid ${row.line}`, boxSizing: "border-box" }} />
            <div style={{ position: "absolute", left: 39, top: 0, fontFamily: FONT, fontSize: 25.5, lineHeight: "24px", color: "#5f5f5f", whiteSpace: "nowrap" }}>{row.label}</div>
          </div>
        ))}
      </div>
    </div>
  );
};

export default App;
